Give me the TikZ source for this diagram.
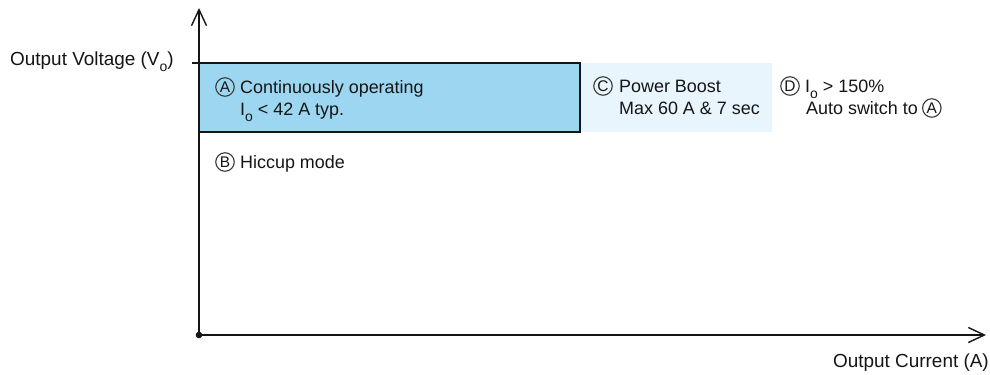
\documentclass[tikz,border=0pt]{standalone}
\usepackage{fontspec}
\setmainfont{Liberation Sans}
\usetikzlibrary{arrows.meta}
\definecolor{boxblue}{HTML}{9DD6F0}
\definecolor{boxlight}{HTML}{E8F5FC}
\definecolor{ink}{HTML}{151515}
\newcommand\lowsub[1]{\raisebox{-6bp}{\fontsize{14}{14}\selectfont #1}}
\begin{document}
\begin{tikzpicture}[x=1bp,y=-1bp,
  lbl/.style={inner sep=0pt, anchor=base west, font=\fontsize{18}{22}\selectfont, text=ink},
  axislbl/.style={inner sep=0pt, font=\fontsize{19}{23}\selectfont, text=ink},
  circlet/.style={circle, draw=ink!85, line width=1.1bp, minimum size=18.5bp, inner sep=0pt,
    font=\fontsize{15.5}{15.5}\selectfont, text=ink},
  axisline/.style={draw=ink, line width=1.4bp, -{Straight Barb[length=16bp, width=15bp, line width=1.4bp]}}]
\useasboundingbox (0,0) rectangle (990,374);
% regions
\fill[boxlight] (580,63) rectangle (772,132);
\draw[ink, line width=1.3bp, fill=boxblue] (199,63) rectangle (580,132);
% axes
\coordinate (O) at (199,335);
\coordinate (ytop) at (199,8);
\coordinate (xend) at (986,335);
\coordinate (tick) at (192,63);
\coordinate (tickend) at (199,63);
\draw[ink, line width=1.3bp] (tick) -- (tickend);
\draw[axisline] (O) -- (ytop);
\draw[axisline] (O) -- (xend);
\fill[ink] (O) circle (3.3bp);
% axis labels
\node[axislbl, anchor=base west] (ylab) at (10,65) {Output Voltage (V\lowsub{o})};
\node[axislbl, anchor=base east] (xlab) at (989,367) {Output Current (A)};
% A
\node[circlet] (cA) at (225,87) {A};
\node[lbl] (tA1) at (240,93.5) {Continuously operating};
\node[lbl] (tA2) at (240,115.5) {I\lowsub{o} < 42 A typ.};
% B
\node[circlet] (cB) at (225,162) {B};
\node[lbl] (tB) at (240,168.5) {Hiccup mode};
% C
\node[circlet] (cC) at (603,86) {C};
\node[lbl] (tC1) at (619,92.5) {Power Boost};
\node[lbl] (tC2) at (619,114.5) {Max 60 A \& 7 sec};
% D
\node[circlet] (cD) at (790,86) {D};
\node[lbl] (tD1) at (805,92.5) {I\lowsub{o} > 150\%};
\node[lbl] (tD2) at (806,114.5) {Auto switch to};
\node[circlet, anchor=west] (cA2) at ([xshift=4bp,yshift=6.5bp]tD2.base east) {A};
\end{tikzpicture}
\end{document}
